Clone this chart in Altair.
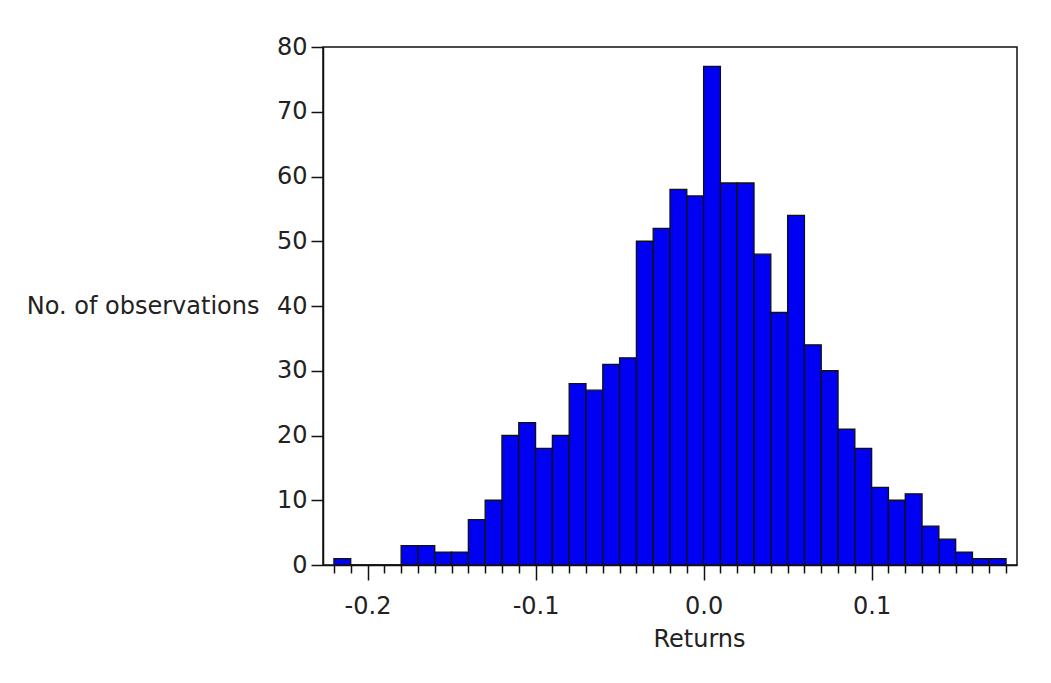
import altair as alt
import pandas as pd

bin_start = [round(-0.22 + 0.01 * i, 2) for i in range(40)]
counts = [1, 0, 0, 0, 3, 3, 2, 2, 7, 10,
          20, 22, 18, 20, 28, 27, 31, 32, 50, 52,
          58, 57, 77, 59, 59, 48, 39, 54, 34, 30,
          21, 18, 12, 10, 11, 6, 4, 2, 1, 1]
x_ticks = [round(-0.22 + 0.01 * i, 2) for i in range(41)]
y_ticks = [0, 10, 20, 30, 40, 50, 60, 70, 80]

df = pd.DataFrame({
    "start": bin_start,
    "end": [round(s + 0.01, 2) for s in bin_start],
    "count": counts,
})

FONT = "DejaVu Sans"
FS = 24
major = "abs(datum.value*10 - round(datum.value*10)) < 0.000001"

chart = alt.Chart(df).mark_bar(
    color="#0000f2", stroke="#111111", strokeWidth=1.3
).encode(
    x=alt.X("start:Q",
            scale=alt.Scale(domain=[-0.2265, 0.1865], nice=False, zero=False),
            axis=alt.Axis(
                values=x_ticks,
                title="Returns",
                titleX=376, titleY=74, titleAlign="center", titleBaseline="middle",
                titleFont=FONT, titleFontSize=FS, titleFontWeight="normal", titleColor="#222222",
                labelExpr=f"{major} ? replace(format(datum.value, '.1f'), '\u2212', '-') : ''",
                labelFont=FONT, labelFontSize=FS, labelColor="#222222",
                labelBaseline="middle", labelPadding=26, labelFlush=False, labelOverlap=False,
                tickSize={"condition": {"test": major, "value": 15}, "value": 8},
                tickColor="#111111", tickWidth=1.5,
                domainColor="#111111", domainWidth=1.5,
                grid=False,
            )),
    x2="end:Q",
    y=alt.Y("count:Q",
            scale=alt.Scale(domain=[0, 80], nice=False),
            axis=alt.Axis(
                values=y_ticks,
                title="No. of observations",
                titleAngle=0, titleX=-64, titleY=259, titleAlign="right", titleBaseline="middle",
                titleFont=FONT, titleFontSize=FS, titleFontWeight="normal", titleColor="#222222",
                labelFont=FONT, labelFontSize=FS, labelColor="#222222",
                labelPadding=4,
                tickSize=12, tickColor="#111111", tickWidth=1.5,
                domainColor="#111111", domainWidth=1.5,
                grid=False,
            )),
    y2=alt.datum(0),
).properties(
    width=694, height=518,
    background="white",
    autosize=alt.AutoSizeParams(type="none"),
    padding={"left": 315, "top": 39, "right": 20, "bottom": 90},
).configure_view(
    stroke="#111111", strokeWidth=1.5
)

chart.save("out.html", embed_options={"renderer": "svg", "actions": False})
